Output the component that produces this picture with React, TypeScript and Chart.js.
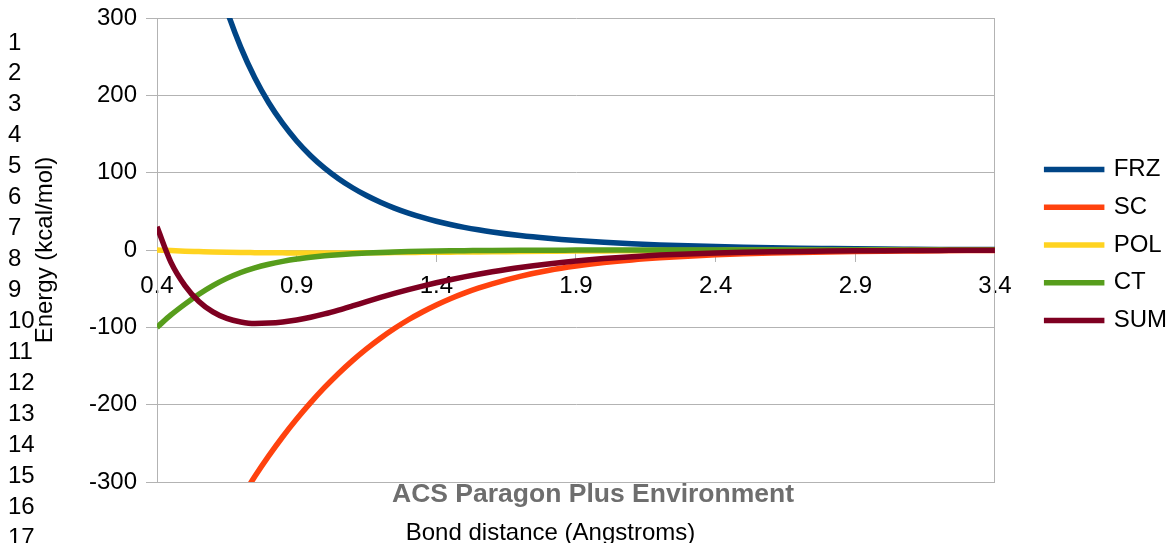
import React, { useEffect, useRef } from 'react';
import { Chart, registerables } from 'chart.js';

Chart.register(...registerables);

// ---------- data ----------
const distances = [
  0.4, 0.45, 0.5, 0.55, 0.6, 0.65, 0.7, 0.75, 0.8, 0.85, 0.9, 0.95, 1.0, 1.05, 1.1, 1.15, 1.2, 1.25, 1.3, 1.35, 1.4, 1.45, 1.5, 1.55, 1.6,
  1.7, 1.8, 1.9, 2.0, 2.1, 2.2, 2.3, 2.4, 2.5, 2.6, 2.7, 2.8, 2.9, 3.0, 3.1, 3.2, 3.3, 3.4,
];

const frz = [
  759, 630, 525, 439, 368, 310, 262, 222.7, 190.4, 163.6, 141, 122, 105.9, 92.2, 80.5, 70.4, 61.7, 54.2, 47.7, 42.1, 37.2, 33.0, 29.3, 26.1, 23.3,
  18.7, 15.1, 12.2, 9.9, 8.1, 6.6, 5.4, 4.4, 3.6, 2.9, 2.35, 1.9, 1.5, 1.2, 1.0, 0.8, 0.65, 0.5,
];
const sc = [
  -545.6, -502.5, -461.8, -423.5, -387.5, -353.8, -322.3, -293, -266.3, -241.5, -218.6, -197.4, -177.7, -159.6, -143.0, -127.8, -114.0, -101.5, -90.2, -80.2, -71.1, -63.0, -55.8, -49.4, -43.7,
  -34.1, -26.6, -20.8, -16.3, -12.8, -10.1, -8.0, -6.3, -5.0, -4.0, -3.2, -2.5, -2.0, -1.6, -1.3, -1.0, -0.8, -0.65,
];
const pol = [
  0, -0.8, -1.5, -2, -2.5, -2.9, -3.2, -3.4, -3.6, -3.7, -3.8, -3.8, -3.8, -3.75, -3.7, -3.6, -3.5, -3.35, -3.2, -3.05, -2.9, -2.75, -2.6, -2.45, -2.3,
  -2.0, -1.7, -1.4, -1.2, -1.0, -0.8, -0.6, -0.5, -0.4, -0.3, -0.3, -0.2, -0.2, -0.1, -0.1, -0.1, -0.1, -0.1,
];
const ct = [
  -100, -84, -70, -57.2, -46, -36.7, -29.1, -23.1, -18.4, -14.7, -11.7, -9.4, -7.5, -6.0, -4.8, -3.85, -3.1, -2.5, -2.0, -1.6, -1.3, -1.05, -0.85, -0.7, -0.55,
  -0.35, -0.22, -0.14, -0.09, -0.06, 0, 0, 0, 0, 0, 0, 0, 0, 0, 0, 0, 0, 0,
];
const sum = [
  30, -16, -46, -66.5, -80, -88.5, -93, -95, -94.5, -93, -90.5, -87, -82.7, -77.7, -72.3, -66.8, -61.4, -56.2, -51.3, -46.7, -42.4, -38.4, -34.7, -31.3, -28.2,
  -22.6, -18.0, -14.2, -11.1, -8.6, -6.6, -5.1, -3.95, -3.05, -2.35, -1.8, -1.4, -1.1, -0.85, -0.65, -0.5, -0.4, -0.3,
];

const seriesNames = ['FRZ', 'SC', 'POL', 'CT', 'SUM'];
const seriesColors = ['#004586', '#ff420e', '#ffd320', '#579d1c', '#7e0021'];

const xTicks = [0.4, 0.9, 1.4, 1.9, 2.4, 2.9, 3.4];
const xTickLabels = ['0.4', '0.9', '1.4', '1.9', '2.4', '2.9', '3.4'];
const yTicks = [-300, -200, -100, 0, 100, 200, 300];
const yTickLabels = ['-300', '-200', '-100', '0', '100', '200', '300'];

const lineNumbers = ['1', '2', '3', '4', '5', '6', '7', '8', '9', '10', '11', '12', '13', '14', '15', '16', '17'];

const xTitle = 'Bond distance (Angstroms)';
const yTitle = 'Energy (kcal/mol)';
const watermark = 'ACS Paragon Plus Environment';

// ---------- style ----------
const FONT = "'Liberation Sans', Arial, sans-serif";
const GRID = '#b3b3b3';

const legendShift = {
  id: 'legendShift',
  afterLayout(chart: any) {
    const l = chart.legend;
    if (l) {
      l.top -= 5;
      l.bottom -= 5;
    }
  },
};

export default function App() {
  const ref = useRef<HTMLCanvasElement>(null);

  useEffect(() => {
    const allSeries = [frz, sc, pol, ct, sum];
    const datasets = allSeries.map((vals, i) => ({
      label: seriesNames[i],
      data: distances.map((x, j) => ({ x, y: vals[j] })),
      borderColor: seriesColors[i],
      backgroundColor: seriesColors[i],
      borderWidth: 5.5,
      pointRadius: 0,
      fill: false,
      cubicInterpolationMode: 'monotone' as const,
      order: allSeries.length - i,
    }));

    Chart.defaults.font.family = FONT;
    Chart.defaults.font.size = 24;
    Chart.defaults.color = '#000';

    const chart = new Chart(ref.current as HTMLCanvasElement, {
      type: 'line',
      data: { datasets },
      plugins: [legendShift],
      options: {
        responsive: false,
        animation: false,
        events: [],
        layout: { padding: { left: 0, top: 18, right: -3, bottom: 61 } },
        plugins: {
          tooltip: { enabled: false },
          title: { display: false },
          legend: {
            display: true,
            position: 'right',
            fullSize: false,
            labels: {
              usePointStyle: true,
              pointStyle: 'line',
              pointStyleWidth: 55,
              padding: 13.7,
              color: '#000',
              font: { size: 24, family: FONT },
              generateLabels: (c: any) => {
                const items = (Chart.defaults.plugins.legend.labels as any).generateLabels(c);
                return items
                  .sort((a: any, b: any) => a.datasetIndex - b.datasetIndex)
                  .map((it: any) => ({ ...it, pointStyle: 'line', lineCap: 'square', lineWidth: 5.5 }));
              },
            },
          },
        },
        scales: {
          x: {
            type: 'linear',
            position: { y: 0 } as any,
            min: 0.4,
            max: 3.4,
            afterBuildTicks: (axis: any) => {
              axis.ticks = xTicks.map((v) => ({ value: v }));
            },
            ticks: {
              autoSkip: false,
              maxRotation: 0,
              padding: 11,
              color: '#000',
              font: { size: 24 },
              callback: (_v: any, i: number) => xTickLabels[i],
            },
            grid: { drawOnChartArea: false, drawTicks: true, tickLength: 11, color: GRID },
            border: { display: true, color: GRID },
          },
          y: {
            type: 'linear',
            position: 'left',
            min: -300,
            max: 300,
            afterBuildTicks: (axis: any) => {
              axis.ticks = yTicks.map((v) => ({ value: v }));
            },
            afterFit: (s: any) => {
              s.width = 157;
              s.paddingTop = 0;
              s.paddingBottom = 0;
            },
            ticks: {
              padding: 9,
              color: '#000',
              font: { size: 24 },
              callback: (_v: any, i: number) => yTickLabels[i],
            },
            grid: { color: GRID, tickLength: 11 },
            border: { display: true, color: GRID },
          },
          y2: {
            type: 'linear',
            position: 'right',
            display: true,
            min: -300,
            max: 300,
            afterFit: (s: any) => {
              s.width = 38;
              s.paddingTop = 0;
              s.paddingBottom = 0;
            },
            ticks: { display: false },
            grid: { drawOnChartArea: false, drawTicks: false },
            border: { display: true, color: GRID },
          },
        },
      },
    } as any);
    return () => chart.destroy();
  }, []);

  return (
    <div
      style={{
        position: 'fixed',
        left: 0,
        top: 0,
        width: 1174,
        height: 543,
        overflow: 'hidden',
        background: '#fff',
        fontFamily: FONT,
      }}
    >
      <canvas ref={ref} width={1174} height={543} style={{ position: 'absolute', left: 0, top: 0, width: 1174, height: 543 }} />
      {lineNumbers.map((n, i) => (
        <div
          key={n}
          style={{
            position: 'absolute',
            left: 8,
            top: 41.2 + 30.98 * i - 11.7,
            fontSize: 24,
            lineHeight: '24px',
            color: '#000',
            whiteSpace: 'nowrap',
          }}
        >
          {n}
        </div>
      ))}
      <div
        style={{
          position: 'absolute',
          left: 43.7,
          top: 250,
          transform: 'translate(-50%, -50%) rotate(-90deg)',
          fontSize: 24,
          lineHeight: '24px',
          color: '#000',
          whiteSpace: 'nowrap',
        }}
      >
        {yTitle}
      </div>
      <div
        style={{
          position: 'absolute',
          left: 550.5,
          top: 520,
          transform: 'translateX(-50%)',
          fontSize: 24,
          lineHeight: '24px',
          color: '#000',
          whiteSpace: 'nowrap',
        }}
      >
        {xTitle}
      </div>
      <div
        style={{
          position: 'absolute',
          left: 593,
          top: 479.6,
          transform: 'translateX(-50%)',
          fontSize: 26.5,
          lineHeight: '26.5px',
          fontWeight: 'bold',
          color: '#6e6e6e',
          whiteSpace: 'nowrap',
        }}
      >
        {watermark}
      </div>
    </div>
  );
}
